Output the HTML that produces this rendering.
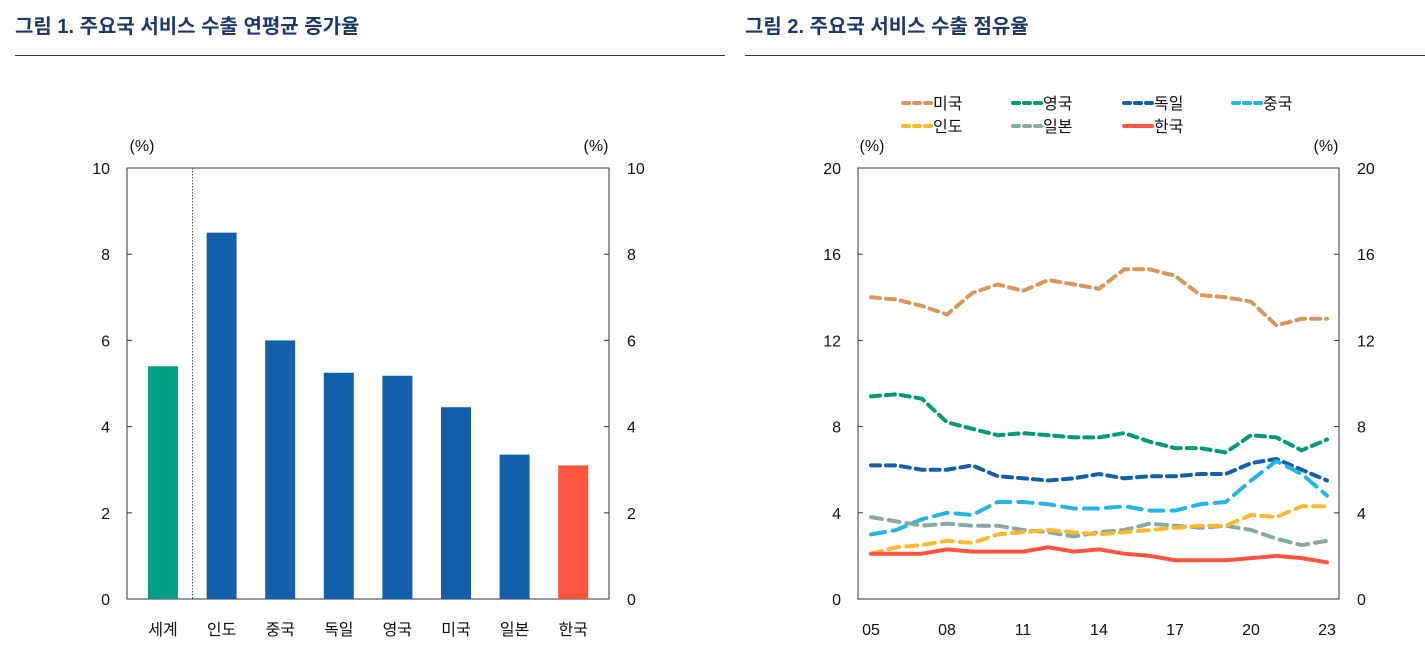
<!DOCTYPE html>
<html><head><meta charset="utf-8"><style>
body{margin:0;background:#fff;width:1425px;height:660px;overflow:hidden;font-family:"Liberation Sans","Noto Sans CJK KR",sans-serif}
svg text{font-family:"Liberation Sans","Noto Sans CJK KR",sans-serif}
</style></head><body>
<svg id="s" width="1425" height="660">
<text x="15" y="33" font-size="20" font-weight="bold" fill="#1b3a6b">그림 1. 주요국 서비스 수출 연평균 증가율</text>
<line x1="15" x2="725" y1="55.5" y2="55.5" stroke="#1b3a6b" stroke-width="1"/>
<text x="745" y="33" font-size="20" font-weight="bold" fill="#1b3a6b">그림 2. 주요국 서비스 수출 점유율</text>
<line x1="745" x2="1425" y1="55.5" y2="55.5" stroke="#1b3a6b" stroke-width="1"/>
<g id="c1"></g>
<g id="c2"></g>
</svg>
<script>
const cats1=['세계','인도','중국','독일','영국','미국','일본','한국'];
const vals1=[5.4,8.5,6.0,5.25,5.18,4.45,3.35,3.1];
const colors1=['#009e84','#135fab','#135fab','#135fab','#135fab','#135fab','#135fab','#ff5540'];
const ticks1=[0,2,4,6,8,10];

const years=['05','06','07','08','09','10','11','12','13','14','15','16','17','18','19','20','21','22','23'];
const xTicks2=['05','08','11','14','17','20','23'];
const ticks2=[0,4,8,12,16,20];
const sUS=[14.0,13.9,13.6,13.2,14.2,14.6,14.3,14.8,14.6,14.4,15.3,15.3,15.0,14.1,14.0,13.8,12.7,13.0,13.0];
const sUK=[9.4,9.5,9.3,8.2,7.9,7.6,7.7,7.6,7.5,7.5,7.7,7.3,7.0,7.0,6.8,7.6,7.5,6.9,7.4];
const sDE=[6.2,6.2,6.0,6.0,6.2,5.7,5.6,5.5,5.6,5.8,5.6,5.7,5.7,5.8,5.8,6.3,6.5,6.0,5.5];
const sCN=[3.0,3.2,3.7,4.0,3.9,4.5,4.5,4.4,4.2,4.2,4.3,4.1,4.1,4.4,4.5,5.5,6.4,5.8,4.8];
const sIN=[2.1,2.4,2.5,2.7,2.6,3.0,3.1,3.2,3.1,3.0,3.1,3.2,3.3,3.4,3.4,3.9,3.8,4.3,4.3];
const sJP=[3.8,3.6,3.4,3.5,3.4,3.4,3.2,3.1,2.9,3.1,3.2,3.5,3.4,3.3,3.4,3.2,2.8,2.5,2.7];
const sKR=[2.1,2.1,2.1,2.3,2.2,2.2,2.2,2.4,2.2,2.3,2.1,2.0,1.8,1.8,1.8,1.9,2.0,1.9,1.7];
const names2=['미국','영국','독일','중국','인도','일본','한국'];

const NS='http://www.w3.org/2000/svg';
function mk(p,t,a){const e=document.createElementNS(NS,t);for(const k in a)e.setAttribute(k,a[k]);p.appendChild(e);return e;}
function txt(p,x,y,s,anchor){const e=mk(p,'text',{x:x,y:y,'font-size':16,fill:'#111','text-anchor':anchor||'middle'});e.textContent=s;return e;}

const c1=document.getElementById('c1');
const L1=127,R1=609,T=168,B=599;
const y1=v=>B-(v/10)*(B-T);
const x1=i=>163+i*58.6;
mk(c1,'rect',{x:L1,y:T,width:R1-L1,height:B-T,fill:'none',stroke:'#333','stroke-width':1});
ticks1.forEach(t=>{
 const y=y1(t);
 let l=mk(c1,'line',{x1:L1,x2:L1+5,y1:y,y2:y,stroke:'#333'});
 l=mk(c1,'line',{x1:R1-5,x2:R1,y1:y,y2:y,stroke:'#333'});
 let e=txt(c1,L1-17,y+6,String(t),'end');
 e=txt(c1,R1+18,y+6,String(t),'start');
});
let u=txt(c1,142,151,'(%)');
u=txt(c1,596,151,'(%)');
let dl=mk(c1,'line',{x1:192.5,x2:192.5,y1:T,y2:B,stroke:'#555','stroke-dasharray':'1.5,1.5'});

vals1.forEach((v,i)=>{
 const r=mk(c1,'rect',{x:x1(i)-15,y:y1(v),width:30,height:B-y1(v),fill:colors1[i]});
 
 const t=txt(c1,x1(i),635,cats1[i]);
});

const c2=document.getElementById('c2');
const L2=858,R2=1339;
const y2=v=>B-(v/20)*(B-T);
const x2=i=>871+i*(1327-871)/(years.length-1);
mk(c2,'rect',{x:L2,y:T,width:R2-L2,height:B-T,fill:'none',stroke:'#333','stroke-width':1});
ticks2.forEach(t=>{
 const y=y2(t);
 let l=mk(c2,'line',{x1:L2,x2:L2+5,y1:y,y2:y,stroke:'#333'});
 l=mk(c2,'line',{x1:R2-5,x2:R2,y1:y,y2:y,stroke:'#333'});
 let e=txt(c2,L2-17,y+6,String(t),'end');
 e=txt(c2,R2+18,y+6,String(t),'start');
});
u=txt(c2,872,151,'(%)');
u=txt(c2,1326,151,'(%)');
xTicks2.forEach(s=>{
 const i=years.indexOf(s);
 const t=txt(c2,x2(i),635,s);
});
const series=[sUS,sUK,sDE,sCN,sIN,sJP,sKR];
const cols=['#d9975c','#00997a','#145fac','#25b5e3','#fdb92e','#86a9a6','#ff5540'];
const dash=['9,6','9,6','9,6','14,8','11,7','11,7',''];
const order=[0,1,2,3,5,4,6];
order.forEach(k=>{
 const d=series[k].map((v,i)=>(i?'L':'M')+x2(i).toFixed(1)+','+y2(v).toFixed(1)).join('');
 const p=mk(c2,'path',{d:d,fill:'none',stroke:cols[k],'stroke-width':4,'stroke-dasharray':dash[k],'stroke-linecap':'round'});
 
});
const lx=[903,1013,1124,1233];
names2.forEach((n,k)=>{
 const cx=lx[k%4],cy=k<4?103:126;
 const g=mk(c2,'g',{});
 
 mk(g,'line',{x1:cx,x2:cx+28,y1:cy,y2:cy,stroke:cols[k],'stroke-width':4,'stroke-dasharray':k==6?'':'6,5','stroke-linecap':'round'});
 txt(g,cx+30,cy+6,n,'start');
});
</script>
</body></html>
